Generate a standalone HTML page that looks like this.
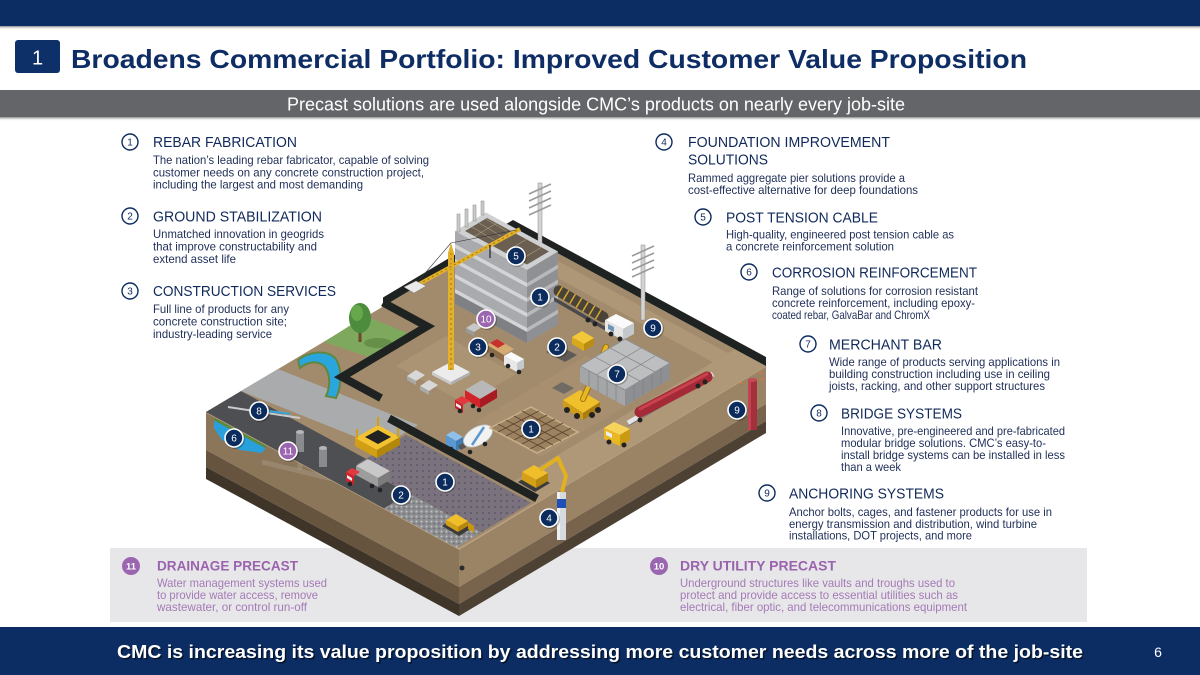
<!DOCTYPE html>
<html><head><meta charset="utf-8">
<style>
html,body{margin:0;padding:0;background:#fff;}
svg{display:block;}
text{font-family:"Liberation Sans",Arial,sans-serif;}
.h{font-size:15px;fill:#10295a;}
.b{font-size:12px;fill:#22315a;}
.cn{font-size:10px;fill:#0d2b5e;text-anchor:middle;}
.pb{font-size:12px;fill:#a47ab6;}
.ph{font-size:14px;font-weight:bold;fill:#9a63ad;}
.nl{font-size:10px;fill:#fff;text-anchor:middle;}
</style></head><body>
<svg width="1200" height="675" viewBox="0 0 1200 675" xmlns="http://www.w3.org/2000/svg">
<defs>
 <linearGradient id="sh" x1="0" y1="0" x2="0" y2="1"><stop offset="0" stop-color="#8a8a8a"/><stop offset="1" stop-color="#fff" stop-opacity="0"/></linearGradient>
 <pattern id="dots" width="6" height="6" patternUnits="userSpaceOnUse"><rect width="6" height="6" fill="#7a727c"/><circle cx="3" cy="3" r="0.8" fill="#4e4560"/></pattern>
 <pattern id="grav" width="5" height="5" patternUnits="userSpaceOnUse"><rect width="5" height="5" fill="#8c8d90"/><circle cx="1.5" cy="1.5" r="1" fill="#c2c2c4"/><circle cx="4" cy="3.5" r="0.8" fill="#6a6b6e"/></pattern>
</defs>
<rect width="1200" height="675" fill="#fff"/>

<!-- HEADER -->
<rect x="0" y="0" width="1200" height="26" fill="#0b2d63"/>
<rect x="0" y="26" width="1200" height="4" fill="url(#sh)"/>
<rect x="15" y="40" width="45" height="33" rx="3" fill="#0d3068"/>
<text x="37.5" y="64.5" font-size="20" fill="#fff" text-anchor="middle">1</text>
<text x="71" y="68" font-size="26" font-weight="bold" fill="#0d2d64" textLength="956" lengthAdjust="spacingAndGlyphs">Broadens Commercial Portfolio: Improved Customer Value Proposition</text>
<rect x="0" y="90" width="1200" height="27" fill="#636569"/>
<rect x="0" y="117" width="1200" height="4" fill="url(#sh)"/>
<text x="287" y="110.5" font-size="18" fill="#fff" textLength="618" lengthAdjust="spacingAndGlyphs">Precast solutions are used alongside CMC’s products on nearly every job-site</text>

<!-- LEFT COLUMN -->
<circle cx="130" cy="142" r="8" fill="#fff" stroke="#0d2b5e" stroke-width="1.4"/><text class="cn" x="130" y="145.5">1</text>
<text class="h" x="153" y="147" textLength="144" lengthAdjust="spacingAndGlyphs">REBAR FABRICATION</text>
<text class="b" x="153" y="164" textLength="276" lengthAdjust="spacingAndGlyphs">The nation’s leading rebar fabricator, capable of solving</text>
<text class="b" x="153" y="176.3" textLength="271" lengthAdjust="spacingAndGlyphs">customer needs on any concrete construction project,</text>
<text class="b" x="153" y="188.6" textLength="210" lengthAdjust="spacingAndGlyphs">including the largest and most demanding</text>

<circle cx="130" cy="216" r="8" fill="#fff" stroke="#0d2b5e" stroke-width="1.4"/><text class="cn" x="130" y="219.5">2</text>
<text class="h" x="153" y="221.5" textLength="169" lengthAdjust="spacingAndGlyphs">GROUND STABILIZATION</text>
<text class="b" x="153" y="238" textLength="171" lengthAdjust="spacingAndGlyphs">Unmatched innovation in geogrids</text>
<text class="b" x="153" y="250.5" textLength="164" lengthAdjust="spacingAndGlyphs">that improve constructability and</text>
<text class="b" x="153" y="263" textLength="83" lengthAdjust="spacingAndGlyphs">extend asset life</text>

<circle cx="130" cy="291" r="8" fill="#fff" stroke="#0d2b5e" stroke-width="1.4"/><text class="cn" x="130" y="294.5">3</text>
<text class="h" x="153" y="296" textLength="183" lengthAdjust="spacingAndGlyphs">CONSTRUCTION SERVICES</text>
<text class="b" x="153" y="313" textLength="136" lengthAdjust="spacingAndGlyphs">Full line of products for any</text>
<text class="b" x="153" y="325.5" textLength="134" lengthAdjust="spacingAndGlyphs">concrete construction site;</text>
<text class="b" x="153" y="338" textLength="119" lengthAdjust="spacingAndGlyphs">industry-leading service</text>

<!-- RIGHT COLUMN -->
<circle cx="664" cy="142" r="8" fill="#fff" stroke="#0d2b5e" stroke-width="1.4"/><text class="cn" x="664" y="145.5">4</text>
<text class="h" x="688" y="147" textLength="202" lengthAdjust="spacingAndGlyphs">FOUNDATION IMPROVEMENT</text>
<text class="h" x="688" y="164.5" textLength="80" lengthAdjust="spacingAndGlyphs">SOLUTIONS</text>
<text class="b" x="688" y="182" textLength="217" lengthAdjust="spacingAndGlyphs">Rammed aggregate pier solutions provide a</text>
<text class="b" x="688" y="194" textLength="230" lengthAdjust="spacingAndGlyphs">cost-effective alternative for deep foundations</text>

<circle cx="703" cy="217" r="8" fill="#fff" stroke="#0d2b5e" stroke-width="1.4"/><text class="cn" x="703" y="220.5">5</text>
<text class="h" x="726" y="222.5" textLength="152" lengthAdjust="spacingAndGlyphs">POST TENSION CABLE</text>
<text class="b" x="726" y="238.5" textLength="228" lengthAdjust="spacingAndGlyphs">High-quality, engineered post tension cable as</text>
<text class="b" x="726" y="250.5" textLength="168" lengthAdjust="spacingAndGlyphs">a concrete reinforcement solution</text>

<circle cx="749" cy="272" r="8" fill="#fff" stroke="#0d2b5e" stroke-width="1.4"/><text class="cn" x="749" y="275.5">6</text>
<text class="h" x="772" y="277.5" textLength="205" lengthAdjust="spacingAndGlyphs">CORROSION REINFORCEMENT</text>
<text class="b" x="772" y="295" textLength="206" lengthAdjust="spacingAndGlyphs">Range of solutions for corrosion resistant</text>
<text class="b" x="772" y="307" textLength="203" lengthAdjust="spacingAndGlyphs">concrete reinforcement, including epoxy-</text>
<text class="b" x="772" y="319" textLength="158" lengthAdjust="spacingAndGlyphs">coated rebar, GalvaBar and ChromX</text>

<circle cx="808" cy="344" r="8" fill="#fff" stroke="#0d2b5e" stroke-width="1.4"/><text class="cn" x="808" y="347.5">7</text>
<text class="h" x="829" y="349.5" textLength="113" lengthAdjust="spacingAndGlyphs">MERCHANT BAR</text>
<text class="b" x="829" y="366" textLength="231" lengthAdjust="spacingAndGlyphs">Wide range of products serving applications in</text>
<text class="b" x="829" y="378" textLength="221" lengthAdjust="spacingAndGlyphs">building construction including use in ceiling</text>
<text class="b" x="829" y="390" textLength="216" lengthAdjust="spacingAndGlyphs">joists, racking, and other support structures</text>

<circle cx="819" cy="413" r="8" fill="#fff" stroke="#0d2b5e" stroke-width="1.4"/><text class="cn" x="819" y="416.5">8</text>
<text class="h" x="841" y="418.5" textLength="121" lengthAdjust="spacingAndGlyphs">BRIDGE SYSTEMS</text>
<text class="b" x="841" y="435" textLength="224" lengthAdjust="spacingAndGlyphs">Innovative, pre-engineered and pre-fabricated</text>
<text class="b" x="841" y="447" textLength="205" lengthAdjust="spacingAndGlyphs">modular bridge solutions. CMC’s easy-to-</text>
<text class="b" x="841" y="459" textLength="224" lengthAdjust="spacingAndGlyphs">install bridge systems can be installed in less</text>
<text class="b" x="841" y="471" textLength="60" lengthAdjust="spacingAndGlyphs">than a week</text>

<circle cx="767" cy="493" r="8" fill="#fff" stroke="#0d2b5e" stroke-width="1.4"/><text class="cn" x="767" y="496.5">9</text>
<text class="h" x="789" y="498.5" textLength="155" lengthAdjust="spacingAndGlyphs">ANCHORING SYSTEMS</text>
<text class="b" x="789" y="516" textLength="263" lengthAdjust="spacingAndGlyphs">Anchor bolts, cages, and fastener products for use in</text>
<text class="b" x="789" y="528" textLength="248" lengthAdjust="spacingAndGlyphs">energy transmission and distribution, wind turbine</text>
<text class="b" x="789" y="539.5" textLength="183" lengthAdjust="spacingAndGlyphs">installations, DOT projects, and more</text>

<!-- BOTTOM PANEL -->
<rect x="110" y="548" width="977" height="74" fill="#e7e7e9"/>
<circle cx="131" cy="566" r="9" fill="#9b66b0"/><text x="131" y="569.5" font-size="9.5" font-weight="bold" fill="#fff" text-anchor="middle">11</text>
<text class="ph" x="157" y="570.5" textLength="141" lengthAdjust="spacingAndGlyphs">DRAINAGE PRECAST</text>
<text class="pb" x="157" y="587" textLength="170" lengthAdjust="spacingAndGlyphs">Water management systems used</text>
<text class="pb" x="157" y="599" textLength="161" lengthAdjust="spacingAndGlyphs">to provide water access, remove</text>
<text class="pb" x="157" y="611" textLength="150" lengthAdjust="spacingAndGlyphs">wastewater, or control run-off</text>
<circle cx="659" cy="566" r="9" fill="#9b66b0"/><text x="659" y="569.5" font-size="9.5" font-weight="bold" fill="#fff" text-anchor="middle">10</text>
<text class="ph" x="680" y="570.5" textLength="156" lengthAdjust="spacingAndGlyphs">DRY UTILITY PRECAST</text>
<text class="pb" x="680" y="587" textLength="275" lengthAdjust="spacingAndGlyphs">Underground structures like vaults and troughs used to</text>
<text class="pb" x="680" y="599" textLength="278" lengthAdjust="spacingAndGlyphs">protect and provide access to essential utilities such as</text>
<text class="pb" x="680" y="611" textLength="287" lengthAdjust="spacingAndGlyphs">electrical, fiber optic, and telecommunications equipment</text>

<!-- FOOTER -->
<rect x="0" y="627" width="1200" height="48" fill="#0b2d63"/>
<text x="118.5" y="659.5" font-size="18" font-weight="bold" fill="#000" fill-opacity="0.55" textLength="966" lengthAdjust="spacingAndGlyphs">CMC is increasing its value proposition by addressing more customer needs across more of the job-site</text>
<text x="117" y="658" font-size="18" font-weight="bold" fill="#fff" textLength="966" lengthAdjust="spacingAndGlyphs">CMC is increasing its value proposition by addressing more customer needs across more of the job-site</text>
<text x="1158" y="657" font-size="14" fill="#fff" text-anchor="middle">6</text>

<!-- ===== ILLUSTRATION ===== -->
<polygon points="206,412 459,549 459,587 206,450" fill="#8c765a"/>
<polygon points="206,450 459,587 459,604 206,467" fill="#66543f"/>
<polygon points="206,467 459,604 459,616 206,479" fill="#3e3428"/>
<polygon points="459,549 766,366 766,404 459,587" fill="#9b8465"/>
<polygon points="459,587 766,404 766,421 459,604" fill="#78644c"/>
<polygon points="459,604 766,421 766,433 459,616" fill="#4d4134"/>
<line x1="262" y1="462" x2="345" y2="482" stroke="#b3a795" stroke-opacity="0.35" stroke-width="5"/>
<line x1="300" y1="452" x2="300" y2="470" stroke="#b3a795" stroke-opacity="0.35" stroke-width="5"/>
<circle cx="462" cy="568" r="2.5" fill="#2b2b2b"/>
<polygon points="214,419 266,447 262,453 240,450 222,440 214,428" fill="#27a0dc"/>
<polyline points="214,419 266,447" stroke="#5c8a3c" stroke-width="2.5" fill="none"/>
<rect x="748" y="380" width="9" height="50" fill="#a3303a"/>
<rect x="748" y="380" width="3" height="50" fill="#c04552"/>
<ellipse cx="752.5" cy="380" rx="4.5" ry="2" fill="#c54a55"/>
<circle cx="744" cy="376" r="1.2" fill="#e27434"/><circle cx="760" cy="373" r="1.2" fill="#e27434"/><circle cx="762" cy="379" r="1.2" fill="#e27434"/><circle cx="741" cy="383" r="1.2" fill="#e27434"/>
<rect x="557" y="492" width="9" height="48" fill="#d7dbe0"/>
<rect x="557" y="492" width="3" height="48" fill="#eef0f3"/>
<rect x="557" y="499" width="9" height="9" fill="#1f4fb5"/>

<polygon points="206,412 459,549 766,366 513,229" fill="#a28b6c"/>
<polyline points="206,412 459,549 766,366" fill="none" stroke="#b9a384" stroke-width="1.5"/>
<polygon points="491,242 744,379 759,370 506,233" fill="#ad9777"/>
<polygon points="396,366 466,404 516,374 446,336" fill="#aa9474"/>
<polygon points="506,486 537,502.5 766,366 735,349" fill="#ae9878"/>
<polygon points="476,422 541,457 651,391 586,356" fill="#a78f70"/>

<polygon points="206,412 384,508.4 419,487.5 241,391.1" fill="#4e4f53"/>
<polygon points="241,391 381,447 418,425 278,369" fill="#aaabad"/>
<line x1="228" y1="407" x2="300" y2="418" stroke="#c9cacc" stroke-width="2"/>
<line x1="262" y1="410" x2="290" y2="414" stroke="#39a3db" stroke-width="2"/>
<polygon points="356,464.8 481,532.5 531,502.7 406,435" fill="url(#dots)"/>
<polygon points="384,508.4 456,547.4 481,532.5 409,493.5" fill="url(#grav)"/>
<rect x="296" y="432" width="8" height="20" fill="#8a8b8f"/><ellipse cx="300" cy="432" rx="4" ry="2" fill="#b5b6b9"/>
<rect x="319" y="448" width="8" height="19" fill="#8a8b8f"/><ellipse cx="323" cy="448" rx="4" ry="2" fill="#b5b6b9"/>

<polygon points="324,342 365,316 410,334 372,358" fill="#7ea85d"/>
<ellipse cx="378" cy="343" rx="14" ry="5" fill="#66904a"/>
<path d="M298,360 C308,352 326,349 335,358 C342,367 342,386 336,398 L326,396 C331,386 330,372 324,366 C317,360 307,362 300,368 Z" fill="#2aa6df" stroke="#5f8740" stroke-width="2"/>
<rect x="358.5" y="326" width="3" height="16" fill="#6b4a2a"/>
<ellipse cx="360" cy="318" rx="11" ry="15" fill="#4d8c3c"/>
<ellipse cx="357" cy="313" rx="6" ry="8" fill="#67a84d"/>

<polygon points="383,306.5 513,229 766,366 766,357 513,220 383,297.5" fill="#1e2220"/>

<rect x="538" y="183" width="4" height="70" fill="#d3d3d3" stroke="#8a8a8a" stroke-width="0.5"/>
<g stroke="#9a9a9a" stroke-width="1.6"><line x1="529" y1="194" x2="551" y2="184"/><line x1="529" y1="201" x2="551" y2="191"/><line x1="529" y1="208" x2="551" y2="198"/><line x1="529" y1="215" x2="551" y2="205"/></g>
<rect x="641" y="245" width="4" height="75" fill="#d3d3d3" stroke="#8a8a8a" stroke-width="0.5"/>
<g stroke="#9a9a9a" stroke-width="1.6"><line x1="632" y1="256" x2="654" y2="246"/><line x1="632" y1="263" x2="654" y2="253"/><line x1="632" y1="270" x2="654" y2="260"/><line x1="632" y1="277" x2="654" y2="267"/></g>

<polygon points="455,231 527,270 527,343 455,304" fill="#a9aaad"/>
<polygon points="527,270 558,251.5 558,324.5 527,343" fill="#8f9093"/>
<g fill="#d3d4d6">
<polygon points="455,244 527,283 527,287 455,248"/>
<polygon points="455,259 527,298 527,302 455,263"/>
<polygon points="455,274 527,313 527,317 455,278"/>
<polygon points="455,289 527,328 527,332 455,293"/>
</g>
<g fill="#b8b9bc">
<polygon points="527,283 558,264.5 558,268.5 527,287"/>
<polygon points="527,298 558,279.5 558,283.5 527,302"/>
<polygon points="527,313 558,294.5 558,298.5 527,317"/>
<polygon points="527,328 558,309.5 558,313.5 527,332"/>
</g>
<polygon points="455,293 527,332 527,343 455,304" fill="#7f8083"/>
<polygon points="455,231 527,270 558,251.5 486,212.5" fill="#cfd0d2"/>
<polygon points="465,231 527,264.5 549,251.5 487,218" fill="#6a5f50"/>
<g stroke="#a89a7e" stroke-width="0.7">
<line x1="472" y1="227" x2="494" y2="240"/><line x1="479" y1="223" x2="501" y2="236"/><line x1="486" y1="219" x2="508" y2="232"/>
<line x1="475" y1="236" x2="497" y2="223"/><line x1="490" y1="244" x2="512" y2="231"/><line x1="505" y1="252" x2="527" y2="239"/><line x1="520" y1="260" x2="542" y2="247"/>
</g>
<g fill="#c9cacc" stroke="#888" stroke-width="0.5">
<rect x="457" y="214" width="3" height="18"/><rect x="465" y="209" width="3" height="18"/><rect x="473" y="205" width="3" height="16"/><rect x="481" y="201" width="3" height="14"/>
</g>
<polygon points="466,328 474,323 482,327 474,332" fill="#c7c7c7"/>
<polygon points="466,328 474,332 474,336 466,332" fill="#9a9a9a"/>

<polygon points="432,372 451,362 470,372 451,382" fill="#ececec"/>
<polygon points="432,372 451,382 451,385 432,375" fill="#c9c9c9"/>
<polygon points="451,382 470,372 470,375 451,385" fill="#b0b0b0"/>
<rect x="448" y="253" width="6" height="117" fill="#e2b02a"/>
<line x1="451" y1="253" x2="451" y2="370" stroke="#9c760f" stroke-width="1" stroke-dasharray="2 3"/>
<polygon points="448,253 451,243 454,253" fill="#e2b02a"/>
<line x1="410" y1="289" x2="520" y2="229" stroke="#e2b02a" stroke-width="4"/>
<line x1="410" y1="289" x2="520" y2="229" stroke="#9c760f" stroke-width="1" stroke-dasharray="2 3"/>
<line x1="451" y1="243" x2="516" y2="230" stroke="#333" stroke-width="0.6"/>
<line x1="451" y1="243" x2="414" y2="286" stroke="#333" stroke-width="0.6"/>
<line x1="490" y1="245" x2="490" y2="258" stroke="#222" stroke-width="1.2"/>
<polygon points="404,287 416,281 426,286 414,293" fill="#e9e9e9" stroke="#888" stroke-width="0.5"/>

<polygon points="554,297 606,327 606,331 554,301" fill="#4a4a4a"/>
<line x1="559" y1="291" x2="603" y2="317" stroke="#4a4339" stroke-width="11" stroke-linecap="round"/>
<line x1="559" y1="291" x2="603" y2="317" stroke="#d7a82a" stroke-width="11" stroke-dasharray="1.5 6"/>
<polygon points="605,320 616,314 634,323 623,329" fill="#fafafa"/>
<polygon points="605,320 623,329 623,340 605,331" fill="#e6e6e6"/>
<polygon points="623,329 634,323 634,334 623,340" fill="#c3c8cc"/>
<polygon points="608,324 614,327 614,332 608,329" fill="#6f93b5"/>
<g fill="#222"><circle cx="611" cy="334" r="2.5"/><circle cx="620" cy="339" r="2.5"/><circle cx="588" cy="320" r="2.5"/><circle cx="595" cy="324" r="2.5"/></g>

<polygon points="546,352 558,345 577,355 565,362" fill="#5e5a55"/>
<polygon points="572,337 582,331 594,338 584,344" fill="#f2c83a"/>
<polygon points="572,337 584,344 584,351 572,344" fill="#d9a91b"/>
<polygon points="584,344 594,338 594,345 584,351" fill="#b88d12"/>

<polygon points="487,345 504,355 504,362 487,352" fill="#8b6d4a"/>
<polygon points="487,345 497,339 514,349 504,355" fill="#d4ab72"/>
<polygon points="490,343 497,339 505,344 498,348" fill="#c8302c"/>
<polygon points="504,356 511,352 524,359 517,363" fill="#fafafa"/>
<polygon points="504,356 517,363 517,372 504,365" fill="#e8e8e8"/>
<polygon points="517,363 524,359 524,368 517,372" fill="#c4c9cd"/>
<g fill="#222"><circle cx="492" cy="355" r="2.3"/><circle cx="508" cy="366" r="2.3"/><circle cx="519" cy="372" r="2.3"/></g>

<polygon points="407,376 416,370 425,375 416,381" fill="#d8d8d8"/>
<polygon points="407,376 416,381 416,385 407,380" fill="#a9a9a9"/>
<polygon points="420,386 429,380 438,385 429,391" fill="#d8d8d8"/>
<polygon points="420,386 429,391 429,395 420,390" fill="#a9a9a9"/>
<polygon points="552,388 562,382 574,388 564,394" fill="#6f6a64"/>

<polygon points="465,390 482,380 497,389 480,399" fill="#b8b8b8"/>
<polygon points="465,390 480,399 480,408 465,399" fill="#d3232b"/>
<polygon points="480,399 497,389 497,398 480,408" fill="#a81b22"/>
<polygon points="455,400 462,396 470,401 463,405" fill="#e03a40"/>
<polygon points="455,400 463,405 463,413 455,408" fill="#c91f27"/>
<polygon points="456,403 461,406 461,409 456,406" fill="#e8eef3"/>
<g fill="#222"><circle cx="460" cy="411" r="2.3"/><circle cx="473" cy="406" r="2.3"/><circle cx="479" cy="410" r="2.3"/></g>

<polygon points="446,435 453,431 463,437 456,441" fill="#8fc0ea"/>
<polygon points="446,435 456,441 456,451 446,445" fill="#5b98d1"/>
<polygon points="456,441 463,437 463,447 456,451" fill="#3f7bb5"/>
<polygon points="458,446 492,426 495,430 461,450" fill="#555"/>
<ellipse cx="478" cy="436" rx="16" ry="9" transform="rotate(-30 478 436)" fill="#f2f2f2" stroke="#b9b9b9" stroke-width="0.8"/>
<line x1="472" y1="445" x2="484" y2="427" stroke="#5b98d1" stroke-width="2.5"/>
<g fill="#222"><circle cx="451" cy="449" r="2.3"/><circle cx="470" cy="452" r="2.3"/><circle cx="485" cy="444" r="2.3"/></g>

<polygon points="490,428 531,407 578,432 537,453" fill="#9c8261" stroke="#c8b08a" stroke-width="1.5"/>
<g stroke="#5a442c" stroke-width="0.8">
<line x1="498" y1="432" x2="539" y2="411"/><line x1="506" y1="436" x2="547" y2="415"/><line x1="514" y1="440" x2="555" y2="419"/><line x1="522" y1="444" x2="563" y2="423"/><line x1="530" y1="449" x2="571" y2="428"/>
<line x1="498" y1="424" x2="545" y2="449"/><line x1="506" y1="420" x2="553" y2="445"/><line x1="514" y1="416" x2="561" y2="441"/><line x1="522" y1="411" x2="569" y2="436"/>
</g>

<polygon points="563,400 580,390 600,402 583,413" fill="#f0bf2c"/>
<polygon points="563,400 583,413 583,420 563,407" fill="#cf9c17"/>
<polygon points="583,413 600,402 600,409 583,420" fill="#a97e0e"/>
<line x1="583" y1="399" x2="606" y2="347" stroke="#9c760f" stroke-width="6" stroke-linecap="round"/>
<line x1="583" y1="399" x2="606" y2="347" stroke="#eab825" stroke-width="4" stroke-linecap="round"/>
<g fill="#222"><circle cx="567" cy="410" r="3"/><circle cx="577" cy="416" r="3"/><circle cx="592" cy="415" r="3"/><circle cx="598" cy="410" r="3"/></g>

<polygon points="580,366 625,390 625,406 580,382" fill="#a5a6a8"/>
<polygon points="625,390 670,363 670,379 625,406" fill="#8e8f92"/>
<polygon points="580,366 625,339 670,363 625,390" fill="#bdbec0" stroke="#8f9092" stroke-width="1"/>
<g stroke="#7d7e81" stroke-width="0.7">
<line x1="589" y1="371" x2="589" y2="387"/><line x1="598" y1="376" x2="598" y2="392"/><line x1="607" y1="380" x2="607" y2="396"/><line x1="616" y1="385" x2="616" y2="401"/>
<line x1="634" y1="385" x2="634" y2="401"/><line x1="643" y1="379" x2="643" y2="395"/><line x1="652" y1="374" x2="652" y2="390"/><line x1="661" y1="368" x2="661" y2="384"/>
<line x1="595" y1="357" x2="640" y2="381"/><line x1="610" y1="348" x2="655" y2="372"/><line x1="596" y1="375" x2="641" y2="348"/><line x1="610" y1="383" x2="655" y2="356"/>
</g>

<line x1="628" y1="423" x2="713" y2="374" stroke="#e4e4e4" stroke-width="5"/>
<line x1="628" y1="426" x2="713" y2="377" stroke="#777" stroke-width="1"/>
<line x1="640" y1="412" x2="707" y2="377" stroke="#a32a36" stroke-width="11" stroke-linecap="round"/>
<line x1="640" y1="409" x2="707" y2="374" stroke="#c8414c" stroke-width="3" stroke-linecap="round"/>
<g fill="#222"><circle cx="698" cy="386" r="2.5"/><circle cx="705" cy="382" r="2.5"/><circle cx="640" cy="420" r="2.5"/></g>
<polygon points="604,428 614,422 630,429 620,435" fill="#f7d35a"/>
<polygon points="604,428 620,435 620,446 604,439" fill="#e9b722"/>
<polygon points="620,435 630,429 630,440 620,446" fill="#c99a12"/>
<polygon points="606,431 612,434 612,438 606,435" fill="#e8eef3"/>
<g fill="#222"><circle cx="609" cy="442" r="2.5"/><circle cx="624" cy="445" r="2.5"/></g>

<polygon points="518,482 533,473 550,483 535,492" fill="#3b3b3b"/>
<polygon points="522,472 534,465 548,473 536,480" fill="#f0bd2b"/>
<polygon points="522,472 536,480 536,488 522,480" fill="#d3a018"/>
<polygon points="536,480 548,473 548,481 536,488" fill="#b5870f"/>
<polyline points="540,470 558,458 566,476 562,492" fill="none" stroke="#e3b020" stroke-width="4" stroke-linejoin="round"/>

<polygon points="442,526 455,518 472,528 459,536" fill="#3b3b3b"/>
<polygon points="446,520 456,514 468,521 458,527" fill="#f0bd2b"/>
<polygon points="446,520 458,527 458,532 446,525" fill="#d3a018"/>
<polygon points="458,527 468,521 468,526 458,532" fill="#b5870f"/>
<polygon points="468,522 474,526 474,533 468,529" fill="#c9970f"/>

<polygon points="356,466 368,459 390,471 378,478" fill="#c8c8c8"/>
<polygon points="356,466 378,478 378,487 356,475" fill="#9d9d9d"/>
<polygon points="378,478 390,471 390,480 378,487" fill="#7c7c7c"/>
<polygon points="346,472 352,468 360,472 354,476" fill="#e03a40"/>
<polygon points="346,472 354,476 354,485 346,481" fill="#d2232b"/>
<polygon points="347,475 352,478 352,481 347,478" fill="#e8eef3"/>
<g fill="#222"><circle cx="350" cy="484" r="2.3"/><circle cx="372" cy="486" r="2.3"/><circle cx="380" cy="490" r="2.3"/></g>

<polygon points="355,438 378,425 400,437 377,450" fill="#f2c230"/>
<polygon points="355,438 377,450 377,458 355,446" fill="#d29f14"/>
<polygon points="377,450 400,437 400,445 377,458" fill="#b3860c"/>
<polygon points="365,437 378,430 391,437 378,444" fill="#222"/>
<g stroke="#d29f14" stroke-width="2"><line x1="357" y1="438" x2="357" y2="429"/><line x1="378" y1="426" x2="378" y2="417"/><line x1="398" y1="437" x2="398" y2="428"/></g>

<polyline points="383,302.5 427,326.3 342,377 381,398.1" fill="none" stroke="#1e2220" stroke-width="8" stroke-linejoin="miter"/>
<polyline points="389,418.4 537,498.5" fill="none" stroke="#1e2220" stroke-width="8"/>

<g>
<g fill="#000" fill-opacity="0.25">
<circle cx="517" cy="257" r="10"/><circle cx="541" cy="298" r="10"/><circle cx="654" cy="329" r="10"/><circle cx="479" cy="348" r="10"/><circle cx="558" cy="348" r="10"/><circle cx="618" cy="375" r="10"/><circle cx="738" cy="411" r="10"/><circle cx="260" cy="412" r="10"/><circle cx="532" cy="430" r="10"/><circle cx="235" cy="439" r="10"/><circle cx="446" cy="483" r="10"/><circle cx="402" cy="496" r="10"/><circle cx="550" cy="519" r="10"/><circle cx="487" cy="320" r="10"/><circle cx="289" cy="452" r="10"/>
</g>
<g fill="#0c2c5e" stroke="#fff" stroke-width="1.6">
<circle cx="516" cy="256" r="9"/><circle cx="540" cy="297" r="9"/><circle cx="653" cy="328" r="9"/><circle cx="478" cy="347" r="9"/><circle cx="557" cy="347" r="9"/><circle cx="617" cy="374" r="9"/><circle cx="737" cy="410" r="9"/><circle cx="259" cy="411" r="9"/><circle cx="531" cy="429" r="9"/><circle cx="234" cy="438" r="9"/><circle cx="445" cy="482" r="9"/><circle cx="401" cy="495" r="9"/><circle cx="549" cy="518" r="9"/>
</g>
<g fill="#9b66b0" stroke="#fff" stroke-width="1.6">
<circle cx="486" cy="319" r="9"/><circle cx="288" cy="451" r="9"/>
</g>
<text class="nl" x="516" y="259.5">5</text>
<text class="nl" x="540" y="300.5">1</text>
<text class="nl" x="653" y="331.5">9</text>
<text class="nl" x="478" y="350.5">3</text>
<text class="nl" x="557" y="350.5">2</text>
<text class="nl" x="617" y="377.5">7</text>
<text class="nl" x="737" y="413.5">9</text>
<text class="nl" x="259" y="414.5">8</text>
<text class="nl" x="531" y="432.5">1</text>
<text class="nl" x="234" y="441.5">6</text>
<text class="nl" x="445" y="485.5">1</text>
<text class="nl" x="401" y="498.5">2</text>
<text class="nl" x="549" y="521.5">4</text>
<text class="nl" x="486" y="322.5" font-size="9">10</text>
<text class="nl" x="288" y="454.5" font-size="9">11</text>
</g>
</svg>
</body></html>
